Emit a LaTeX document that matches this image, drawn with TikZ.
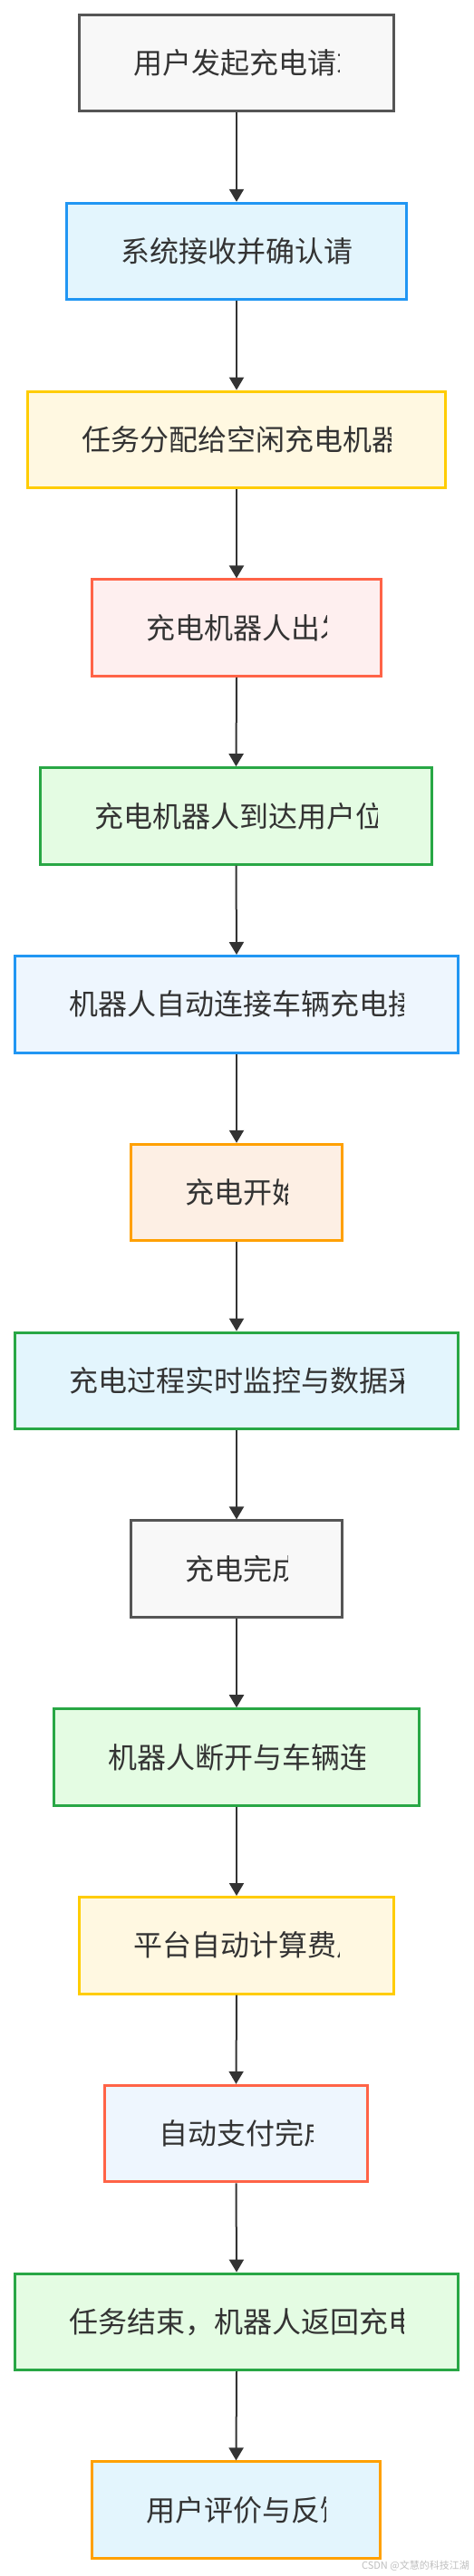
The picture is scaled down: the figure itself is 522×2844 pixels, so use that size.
\documentclass[tikz,border=0pt]{standalone}
\usepackage{fontspec}
\newfontfamily\cjk{Noto Sans CJK SC}
\usetikzlibrary{arrows.meta}
\definecolor{txt}{HTML}{333333}
\definecolor{bGray}{HTML}{555555}
\definecolor{fGray}{HTML}{F8F8F8}
\definecolor{bBlue}{HTML}{2196F3}
\definecolor{bYellow}{HTML}{FFCC00}
\definecolor{fYellow}{HTML}{FFF8E1}
\definecolor{bRed}{HTML}{FF6347}
\definecolor{fRed}{HTML}{FEEFEF}
\definecolor{bGreen}{HTML}{28A745}
\definecolor{fGreen}{HTML}{E4FCE3}
\definecolor{bOrange}{HTML}{FFA000}
\definecolor{fOrange}{HTML}{FDEFE4}
\definecolor{fSky}{HTML}{E3F5FD}
\definecolor{fIce}{HTML}{EEF6FE}
\tikzset{
  fbox/.style={rectangle, line width=3pt, inner sep=0pt, minimum height=106.5pt},
  lbl/.style={inner sep=0pt, text=txt, font=\cjk\fontsize{32}{36}\selectfont},
  arr/.style={draw=txt, line width=2pt, -{Triangle[width=16pt,length=14pt]}},
  sGray/.style={draw=bGray, fill=fGray},
  sBlueSky/.style={draw=bBlue, fill=fSky},
  sBlueIce/.style={draw=bBlue, fill=fIce},
  sYellow/.style={draw=bYellow, fill=fYellow},
  sRed/.style={draw=bRed, fill=fRed},
  sRedIce/.style={draw=bRed, fill=fIce},
  sGreen/.style={draw=bGreen, fill=fGreen},
  sGreenSky/.style={draw=bGreen, fill=fSky},
  sOrange/.style={draw=bOrange, fill=fOrange},
  sOrangeSky/.style={draw=bOrange, fill=fSky},
}
% #1 name, #2 left, #3 right, #4 index, #5 style, #6 text
\newcommand{\flowbox}[6]{%
  \pgfmathsetmacro{\fbTop}{15+207.8*#4}%
  \pgfmathsetmacro{\fbMid}{\fbTop+54.75}%
  \pgfmathsetmacro{\fbWid}{#3-#2-3}%
  \pgfmathsetmacro{\fbCx}{(#2+#3)/2}%
  \pgfmathsetmacro{\fbLx}{#2+61.5}%
  \pgfmathsetmacro{\fbRx}{#3-61.5}%
  \node[fbox,#5,minimum width=\fbWid pt] (#1) at (\fbCx,\fbMid) {};
  \begin{scope}
    \clip (\fbLx,\fbTop) rectangle (\fbRx,\fbTop+110);
    \node[lbl,anchor=west] (#1t) at (\fbLx,\fbMid) {#6};
  \end{scope}%
}
\begin{document}
\begin{tikzpicture}[x=1pt,y=-1pt]
\fill[white] (0,0) rectangle (522,2844);
\useasboundingbox (0,0) rectangle (522,2844);
\flowbox{n1}{86}{436}{0}{sGray}{用户发起充电请求}
\flowbox{n2}{72}{450}{1}{sBlueSky}{系统接收并确认请}
\flowbox{n3}{29}{493}{2}{sYellow}{任务分配给空闲充电机器}
\flowbox{n4}{100}{422}{3}{sRed}{充电机器人出发}
\flowbox{n5}{43}{478}{4}{sGreen}{充电机器人到达用户位}
\flowbox{n6}{15}{507}{5}{sBlueIce}{机器人自动连接车辆充电接}
\flowbox{n7}{143}{379}{6}{sOrange}{充电开始}
\flowbox{n8}{15}{507}{7}{sGreenSky}{充电过程实时监控与数据采}
\flowbox{n9}{143}{379}{8}{sGray}{充电完成}
\flowbox{n10}{58}{464}{9}{sGreen}{机器人断开与车辆连}
\flowbox{n11}{86}{436}{10}{sYellow}{平台自动计算费用}
\flowbox{n12}{114}{407}{11}{sRedIce}{自动支付完成}
\flowbox{n13}{15}{507}{12}{sGreen}{任务结束，机器人返回充电}
\flowbox{n14}{100}{421}{13}{sOrangeSky}{用户评价与反馈}
\foreach \a/\b in {n1/n2,n2/n3,n3/n4,n4/n5,n5/n6,n6/n7,n7/n8,n8/n9,n9/n10,n10/n11,n11/n12,n12/n13,n13/n14}
  \draw[arr] (\a.south) -- (\b.north);
\node[anchor=east, inner sep=0pt, text=black!25, font=\cjk\fontsize{11}{13}\selectfont] (wm) at (518,2833) {CSDN @文慧的科技江湖};
\end{tikzpicture}
\end{document}
